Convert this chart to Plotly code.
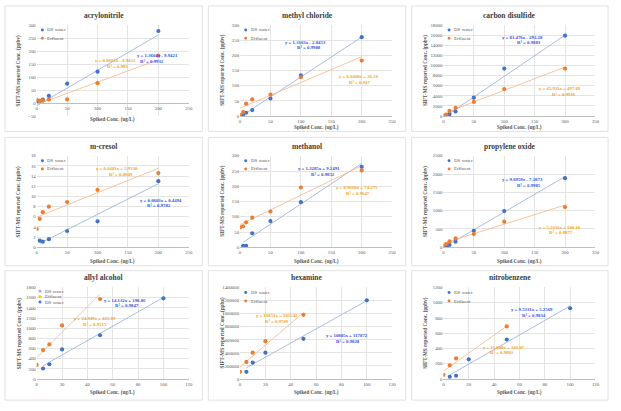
import plotly.graph_objects as go

W, H = 621, 411

# ---------------- data ----------------
titles = ["acrylonitrile", "methyl chloride", "carbon disulfide",
          "m-cresol", "methanol", "propylene oxide",
          "allyl alcohol", "hexamine", "nitrobenzene"]

acr_ds_x = [0, 5, 10, 20, 50, 100, 200]
acr_ds_y = [8, 9, 14, 28, 75, 121, 277]
acr_ef_x = [0, 5, 10, 20, 50, 100, 200]
acr_ef_y = [13, 9, 11, 14, 15, 77, 183]

mcl_ds_x = [5, 10, 20, 50, 100, 200]
mcl_ds_y = [3, 11, 20, 58, 134, 260]
mcl_ef_x = [0, 5, 10, 20, 50, 100, 200]
mcl_ef_y = [3, 13, 41, 55, 71, 128, 183]

cs2_ds_x = [5, 10, 20, 50, 100, 200]
cs2_ds_y = [200, 390, 910, 3650, 9390, 15900]
cs2_ef_x = [0, 5, 10, 20, 50, 100, 200]
cs2_ef_y = [50, 200, 1040, 1630, 2800, 5350, 9400]

mcr_ds_x = [5, 10, 20, 50, 100, 200]
mcr_ds_y = [1.3, 1.1, 1.6, 3.2, 5.1, 13.0]
mcr_ef_x = [0, 5, 10, 20, 50, 100, 200]
mcr_ef_y = [3.6, 5.6, 6.9, 8.0, 8.9, 11.3, 14.6]

meo_ds_x = [5, 10, 20, 50, 100, 200]
meo_ds_y = [5, 5, 46, 86, 148, 264]
meo_ef_x = [0, 5, 10, 20, 50, 100, 200]
meo_ef_y = [65, 69, 82, 97, 117, 196, 252]

pox_ds_x = [5, 10, 20, 50, 100, 200]
pox_ds_y = [27, 63, 153, 450, 990, 1890]
pox_ef_x = [0, 5, 10, 20, 50, 100, 200]
pox_ef_y = [45, 90, 162, 243, 360, 700, 1100]

aal_ds_x = [5, 10, 20, 50, 100]
aal_ds_y = [207, 291, 583, 861, 1587]
aal_ef_x = [0, 5, 10, 20, 50]
aal_ef_y = [278, 570, 680, 1055, 1574]

hex_ds_x = [5, 10, 20, 50, 100]
hex_ds_y = [110800, 251800, 402800, 614300, 1203400]
hex_ef_x = [0, 5, 10, 20, 50]
hex_ef_y = [110800, 261800, 402800, 579000, 982000]

nbz_ds_x = [5, 10, 20, 50, 100]
nbz_ds_y = [30, 43, 259, 518, 928]
nbz_ef_x = [0, 5, 10, 50]
nbz_ef_y = [56, 181, 272, 690]

# trendline coefficients (slope, intercept) as printed on the chart
ds_fit = [(1.3604, -9.9421), (1.3163, -2.8453), (81.476, -292.28),
          (0.0603, 0.4494), (1.3285, 9.2491), (9.6959, -7.1873),
          (14.132, 190.86), (10805, 117872), (9.5331, 5.2569)]
ef_fit = [(0.8602, -4.9422), (0.8468, 26.16), (45.911, 497.89),
          (0.0481, 5.9330), (0.9668, 74.275), (5.2311, 108.16),
          (24.949, 421.89), (16653, 185542), (11.808, 103.87)]
ds_eq = ["y = 1.3604x - 9.9421", "y = 1.3163x - 2.8453", "y = 81.476x - 292.28",
         "y = 0.0603x + 0.4494", "y = 1.3285x + 9.2491", "y = 9.6959x - 7.1873",
         "y = 14.132x + 190.86", "y = 10805x + 117872", "y = 9.5331x + 5.2569"]
ds_r2 = ["R² = 0.9932", "R² = 0.9988", "R² = 0.9883", "R² = 0.9782", "R² = 0.9852",
         "R² = 0.9985", "R² = 0.9847", "R² = 0.9828", "R² = 0.9834"]
ef_eq = ["y = 0.8602x - 4.9422", "y = 0.8468x + 26.16", "y = 45.911x + 497.89",
         "y = 0.0481x + 5.9330", "y = 0.9668x + 74.275", "y = 5.2311x + 108.16",
         "y = 24.949x + 421.89", "y = 16653x + 185542", "y = 11.808x + 103.87"]
ef_r2 = ["R² = 0.993", "R² = 0.947", "R² = 0.9916", "R² = 0.8949", "R² = 0.9647",
         "R² = 0.9877", "R² = 0.9515", "R² = 0.9709", "R² = 0.9803"]

x_ranges = [[0, 250]] * 6 + [[0, 120]] * 3
x_dticks = [50] * 6 + [20] * 3
y_ranges = [[-50, 300], [0, 300], [0, 18000], [0, 18], [0, 300], [0, 2500],
            [0, 1800], [0, 1400000], [0, 1200]]
y_dticks = [50, 50, 2000, 2, 50, 500, 200, 200000, 200]

series = [(acr_ds_x, acr_ds_y, acr_ef_x, acr_ef_y),
          (mcl_ds_x, mcl_ds_y, mcl_ef_x, mcl_ef_y),
          (cs2_ds_x, cs2_ds_y, cs2_ef_x, cs2_ef_y),
          (mcr_ds_x, mcr_ds_y, mcr_ef_x, mcr_ef_y),
          (meo_ds_x, meo_ds_y, meo_ef_x, meo_ef_y),
          (pox_ds_x, pox_ds_y, pox_ef_x, pox_ef_y),
          (aal_ds_x, aal_ds_y, aal_ef_x, aal_ef_y),
          (hex_ds_x, hex_ds_y, hex_ef_x, hex_ef_y),
          (nbz_ds_x, nbz_ds_y, nbz_ef_x, nbz_ef_y)]

legend_labels = [["DS water", "Effluent"]] * 6 + [["DS water", "Effluent", "DS water"]] + [["DS water", "Effluent"]] * 2

# ---------------- layout geometry (pixels) ----------------
col_plot = [(36, 189.3), (241, 394.3), (446, 599.3)]
row_plot = [(23.3, 115.5), (155.7, 248.3), (289, 381.7)]
col_box = [(4, 203), (209, 408), (414, 612)]
row_box = [(4, 131), (137, 267), (272, 403)]
title_y = [14, 146.7, 279.3]
xtitle_y = [127.3, 262.7, 395.7]
legend_y = [(28.3, 36.7), (160.7, 169), (294, 302.7)]

# equation label centres (px): ds line, ef line (R2 line sits just below each)
eq_pos = [
    [(158, 54.5), (152, 60), (115, 59.5), (117, 65)],
    [(307.3, 41), (311, 46.5), (360.7, 75.7), (361.7, 81.2)],
    [(525.7, 36), (532.3, 41.5), (564, 87.7), (567.3, 93.2)],
    [(161.7, 200.5), (159, 206), (117.3, 168.8), (120.7, 174.3)],
    [(320.7, 168.8), (325, 174.3), (359, 188), (360, 193.5)],
    [(525.7, 180), (532.3, 185.5), (563.3, 228), (565, 233.5)],
    [(125, 302.2), (126.7, 307.7), (95, 320.5), (95, 326)],
    [(349, 338), (350, 343.5), (278, 317.5), (278.5, 323)],
    [(535.7, 311.5), (537.3, 317), (506.7, 349.7), (505, 355.2)],
]

BLUE = "#4472C4"
ORANGE = "#ED7D31"
BLUE_LINE = "#9DB5E0"
ORANGE_LINE = "#F6BD93"
BLUE_TXT = "#2F52E0"
ORANGE_TXT = "#F2A51E"
GRID = "#E4E4E4"
TXT = "#595959"
FONT = "Liberation Serif"


def fx(x):
    return x / W


def fy(y):
    return 1 - y / H


fig = go.Figure()
shapes = []
annotations = []
layout_axes = {}

for i in range(9):
    r, c = divmod(i, 3)
    sfx = "" if i == 0 else str(i + 1)
    xa, ya = "x" + sfx, "y" + sfx
    x0, x1 = col_plot[c]
    y0, y1 = row_plot[r]
    if i == 0:
        y1 = 115.7
    dsx, dsy, efx, efy = series[i]

    # trendlines
    m, b = ds_fit[i]
    tx = [min(dsx), max(dsx)]
    fig.add_trace(go.Scatter(x=tx, y=[m * v + b for v in tx], mode="lines", xaxis=xa, yaxis=ya,
                             line=dict(color=BLUE_LINE, width=0.9), showlegend=False))
    m, b = ef_fit[i]
    tx = [min(efx), max(efx)]
    fig.add_trace(go.Scatter(x=tx, y=[m * v + b for v in tx], mode="lines", xaxis=xa, yaxis=ya,
                             line=dict(color=ORANGE_LINE, width=0.9), showlegend=False))
    # markers
    fig.add_trace(go.Scatter(x=dsx, y=dsy, mode="markers", xaxis=xa, yaxis=ya,
                             marker=dict(color=BLUE, size=4.2), showlegend=False))
    fig.add_trace(go.Scatter(x=efx, y=efy, mode="markers", xaxis=xa, yaxis=ya,
                             marker=dict(color=ORANGE, size=4.2), showlegend=False))

    xdom = [fx(x0), fx(x1)]
    ydom = [fy(y1), fy(y0)]
    xax = dict(domain=xdom, anchor=ya, range=x_ranges[i], dtick=x_dticks[i], tick0=0,
               showgrid=True, gridcolor=GRID, gridwidth=0.6, zeroline=False,
               showline=True, linecolor="#BFBFBF", linewidth=0.8, ticks="",
               tickfont=dict(family=FONT, size=4.8, color=TXT))
    if i == 0:
        yr = y_ranges[0]
        pos = ydom[0] + (0 - yr[0]) / (yr[1] - yr[0]) * (ydom[1] - ydom[0])
        xax.update(anchor="free", position=pos)
    yax = dict(domain=ydom, anchor=xa, range=y_ranges[i], dtick=y_dticks[i], tick0=0,
               showgrid=True, gridcolor=GRID, gridwidth=0.6, zeroline=False,
               showline=False, ticks="", tickformat="d",
               tickfont=dict(family=FONT, size=4.8, color=TXT))
    layout_axes["xaxis" + sfx] = xax
    layout_axes["yaxis" + sfx] = yax

    # chart box
    bx0, bx1 = col_box[c]
    by0, by1 = row_box[r]
    shapes.append(dict(type="rect", xref="paper", yref="paper", layer="below",
                       x0=fx(bx0), x1=fx(bx1), y0=fy(by1), y1=fy(by0),
                       line=dict(color="#D9D9D9", width=0.8), fillcolor="white"))

    # title
    annotations.append(dict(text="<b>" + titles[i] + "</b>", xref="paper", yref="paper",
                            x=fx((bx0 + bx1) / 2), y=fy(title_y[r]), showarrow=False,
                            xanchor="center", yanchor="middle",
                            font=dict(family=FONT, size=7.5, color="#404040")))
    # axis titles
    xt_y = 119 if i == 0 else xtitle_y[r]
    annotations.append(dict(text="<b>Spiked Conc. (ug/L)</b>", xref="paper", yref="paper",
                            x=fx((x0 + x1) / 2), y=fy(xt_y), showarrow=False,
                            xanchor="center", yanchor="middle",
                            font=dict(family=FONT, size=5.2, color=TXT)))
    annotations.append(dict(text="<b>SIFT-MS reported Conc. (ppbv)</b>", xref="paper", yref="paper",
                            x=fx(x0 - 18), y=fy((y0 + y1) / 2), showarrow=False, textangle=-90,
                            xanchor="center", yanchor="middle",
                            font=dict(family=FONT, size=5.2, color=TXT)))

    # legend
    labels = legend_labels[i]
    if len(labels) == 3:
        ly = [292.7, 298.3, 303.7]
        lcol = ["#B4A7D6", "#FFC000", BLUE]
        lx = 39.3
    else:
        ly = list(legend_y[r])
        lcol = [BLUE, ORANGE]
        lx = x0 + 5.7
    for lab, yy, col in zip(labels, ly, lcol):
        rr = 1.5
        shapes.append(dict(type="circle", xref="paper", yref="paper",
                           x0=fx(lx - rr), x1=fx(lx + rr), y0=fy(yy + rr), y1=fy(yy - rr),
                           line=dict(width=0), fillcolor=col))
        annotations.append(dict(text=lab, xref="paper", yref="paper", x=fx(lx + 3), y=fy(yy),
                                showarrow=False, xanchor="left", yanchor="middle",
                                font=dict(family=FONT, size=5, color=TXT)))

    # equations
    p = eq_pos[i]
    for txt, (ex, ey), col in [(ds_eq[i], p[0], BLUE_TXT), (ds_r2[i], p[1], BLUE_TXT),
                               (ef_eq[i], p[2], ORANGE_TXT), (ef_r2[i], p[3], ORANGE_TXT)]:
        annotations.append(dict(text="<b>" + txt + "</b>", xref="paper", yref="paper",
                                x=fx(ex), y=fy(ey), showarrow=False,
                                xanchor="center", yanchor="middle",
                                font=dict(family=FONT, size=4.8, color=col)))

fig.update_layout(width=W, height=H, margin=dict(l=0, r=0, t=0, b=0),
                  paper_bgcolor="white", plot_bgcolor="rgba(0,0,0,0)",
                  showlegend=False, shapes=shapes, annotations=annotations,
                  font=dict(family=FONT), **layout_axes)

fig.write_html("out.html", config={"displayModeBar": False},
               post_script="document.body.style.margin='0';")
